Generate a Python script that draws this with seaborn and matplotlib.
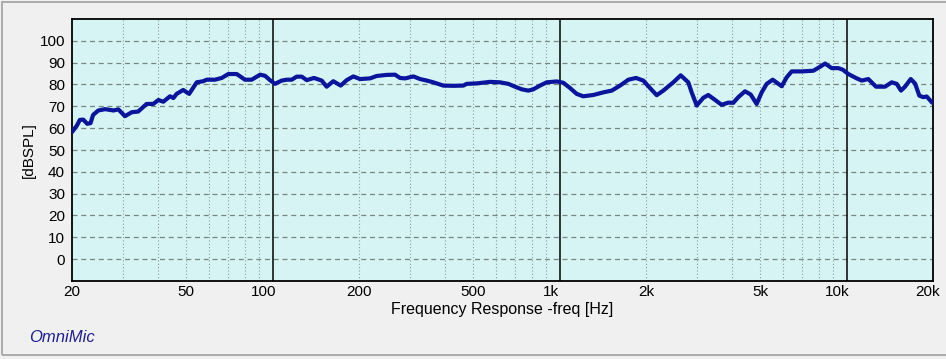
import matplotlib
matplotlib.use("Agg")
import matplotlib.pyplot as plt
import matplotlib.transforms as mtransforms
from matplotlib.patches import Rectangle
import seaborn as sns
import pandas as pd

# ---- data ----
freq_hz = [20, 20.8, 21.3, 21.9, 22.6, 23.2, 23.7, 24.7, 26.1, 27.9, 29.0, 30.6, 32.3, 34.0,
           36.4, 38.4, 40.0, 41.6, 43.9, 45.1, 46.3, 48.8, 51.2, 54.4, 57.3, 58.9, 63.0, 66.5,
           70.1, 75.0, 80.1, 84.6, 90.4, 94.1, 97.9, 101.9, 107.6, 112.0, 116.6, 121.3, 126.3,
           131.5, 139.4, 148.3, 154.3, 162.7, 172.7, 181.2, 191.1, 201.6, 218.5, 230.5, 249.8,
           267.0, 278.0, 289.4, 309.3, 326.4, 344.4, 363.1, 393.4, 426.2, 461.7, 474.6, 514.3,
           572.0, 619.8, 662.6, 699.2, 737.8, 778.0, 809.8, 854.6, 901.6, 977, 1030, 1087, 1147,
           1209, 1311, 1420, 1519, 1624, 1736, 1846, 1957, 2065, 2179, 2298, 2490, 2642, 2808,
           2885, 3004, 3168, 3297, 3480, 3670, 3870, 4028, 4194, 4425, 4633, 4860, 5060, 5268,
           5528, 5940, 6184, 6436, 6974, 7656, 8080, 8412, 8872, 9356, 9692, 10140, 10846, 11290,
           11904, 12664, 13608, 14360, 14948, 15472, 15978, 16726, 17314, 17922, 18506, 19018,
           19792, 20000]
spl_db = [58.2, 61.2, 63.8, 63.9, 62.0, 62.3, 66.1, 68.1, 68.7, 68.1, 68.6, 65.5, 67.3, 67.6,
          71.1, 71.1, 72.9, 72.1, 74.6, 73.8, 75.7, 77.5, 75.7, 81.0, 81.5, 82.2, 82.2, 83.0,
          84.8, 84.8, 82.2, 82.2, 84.5, 84.0, 82.0, 80.3, 81.8, 82.2, 82.2, 83.6, 83.6,
          82.0, 83.0, 81.8, 79.0, 81.5, 79.5, 82.0, 83.7, 82.5, 82.8, 83.9, 84.4,
          84.5, 83.0, 82.8, 83.7, 82.5, 81.8, 81.0, 79.5, 79.4, 79.5, 80.3, 80.5,
          81.2, 81.0, 80.3, 79.0, 77.8, 77.2, 77.8, 79.5, 81.0, 81.4, 80.8, 78.4, 75.7,
          74.6, 75.2, 76.4, 77.2, 79.5, 82.2, 83.0, 81.8, 78.4, 75.1, 77.2, 81.0, 84.2, 81.0,
          76.4, 70.4, 73.9, 75.2, 72.9, 70.7, 71.7, 71.6, 74.2, 76.9, 75.4, 71.1, 76.4, 80.3,
          82.2, 79.2, 83.3, 86.0, 86.0, 86.3, 88.1, 89.6, 87.5, 87.5, 86.8, 84.8, 82.8, 81.8,
          82.5, 79.0, 79.0, 81.0, 80.3, 77.2, 79.0, 82.5, 80.5, 74.9, 74.2, 74.5,
          71.9, 71.5]

x_ticks = [20, 50, 100, 200, 500, 1000, 2000, 5000, 10000, 20000]
x_tick_labels = ["20", "50", "100", "200", "500", "1k", "2k", "5k", "10k", "20k"]
x_minor = [30, 40, 50, 60, 70, 80, 90,
           200, 300, 400, 500, 600, 700, 800, 900,
           2000, 3000, 4000, 5000, 6000, 7000, 8000, 9000]
decades = [100, 1000, 10000]
y_ticks = [0, 10, 20, 30, 40, 50, 60, 70, 80, 90, 100]

df = pd.DataFrame({"freq": freq_hz, "spl": spl_db})

sns.set_style("white")
plt.rcParams["font.family"] = ["Liberation Sans", "DejaVu Sans"]
plt.rcParams["text.color"] = "black"
plt.rcParams["axes.labelcolor"] = "black"

W, H = 946, 359
fig = plt.figure(figsize=(W / 100, H / 100), dpi=100, facecolor="#f0f0f0")
ax = fig.add_axes([72 / W, 1 - 281 / H, (933 - 72) / W, (281 - 19) / H])
ax.set_facecolor("#d7f4f4")

# window frame lines
fig.add_artist(Rectangle((2 / W, 1 - 355 / H), (W + 4) / W, (355 - 2) / H,
                         transform=fig.transFigure, fill=False,
                         edgecolor="#a0a0a0", linewidth=1.2))

ax.set_xscale("log")
ax.set_xlim(20, 20000)
ax.set_ylim(-10, 110)

# grids
for yv in y_ticks:
    ax.axhline(yv, color="#75857f", linewidth=0.9, linestyle=(0, (4, 3)), zorder=1)
for xv in x_minor:
    ax.axvline(xv, color="#8a9a9a", linewidth=0.8, linestyle=(0, (1, 2)), zorder=1)
for xv in decades:
    ax.axvline(xv, color="black", linewidth=1.1, zorder=1.5)

sns.lineplot(data=df, x="freq", y="spl", ax=ax, color="#0a149c",
             linewidth=3.0, zorder=3, legend=False)

ax.set_xticks(x_ticks)
ax.set_xticklabels(x_tick_labels)
ax.xaxis.set_minor_locator(matplotlib.ticker.NullLocator())
ax.set_yticks(y_ticks)
ax.set_yticklabels([str(v) for v in y_ticks])
ax.tick_params(axis="both", length=0, labelsize=11, colors="black")
ax.tick_params(axis="x", pad=3)
ax.tick_params(axis="y", pad=5)

# shift decade labels slightly left, as in the reference
for lbl, txt in zip(ax.get_xticklabels(), x_tick_labels):
    if txt in ("100", "1k", "10k"):
        lbl.set_transform(lbl.get_transform() +
                          mtransforms.ScaledTranslation(-9 / 100, 0, fig.dpi_scale_trans))
    if txt == "20k":
        lbl.set_transform(lbl.get_transform() +
                          mtransforms.ScaledTranslation(-5 / 100, 0, fig.dpi_scale_trans))

ax.set_xlabel("Frequency Response -freq [Hz]", fontsize=11.5, labelpad=2, color="black")
ax.set_ylabel("[dBSPL]", fontsize=11, labelpad=3, color="black")

for sp in ax.spines.values():
    sp.set_color("black")
    sp.set_linewidth(1.3)

fig.text(29 / W, 1 - 337 / H, "OmniMic", fontsize=12, style="italic",
         color="#1e1e96", va="center", ha="left")

fig.savefig("out.png", dpi=100, facecolor=fig.get_facecolor())
